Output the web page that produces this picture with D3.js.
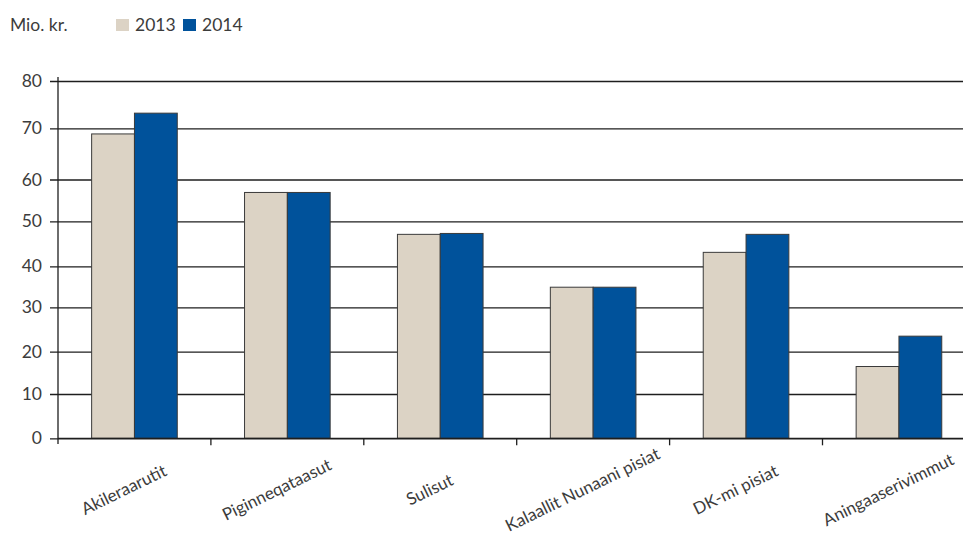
<!DOCTYPE html>
<html>
<head>
<meta charset="utf-8">
<script src="https://cdn.jsdelivr.net/npm/d3@7/dist/d3.min.js"></script>
<style>
  html, body { margin: 0; padding: 0; background: #fff; }
  svg { display: block; }
  text { font-family: Lato, "Open Sans", sans-serif; fill: #3c3c3c; font-weight: 400; }
</style>
</head>
<body>
<svg id="chart" width="963" height="539"></svg>
<script>
// ---- data ----
const categories = ["Akileraarutit", "Piginneqataasut", "Sulisut", "Kalaallit Nunaani pisiat", "DK-mi pisiat", "Aningaaserivimmut"];
const seriesNames = ["2013", "2014"];
const values2013 = [68.9, 56.9, 47.1, 34.9, 43.1, 16.5];
const values2014 = [73.2, 56.9, 47.3, 34.9, 47.1, 23.5];
const yTicks = [0, 10, 20, 30, 40, 50, 60, 70, 80];
const unitLabel = "Mio. kr.";

// ---- layout ----
const W = 963, H = 539;
const colors = { "2013": "#dcd3c5", "2014": "#00529b" };
// the reference's value axis is not evenly spaced; map each tick to where it sits
const yStops = [438.3, 394, 351.7, 307.3, 266.3, 221.3, 179.5, 128.3, 81];
const y = d3.scaleLinear().domain(yTicks).range(yStops);
const x0 = d3.scaleBand().domain(categories).range([58, 975.4]).paddingInner(0.44).paddingOuter(0.22);
const x1 = d3.scaleBand().domain(seriesNames).range([0, x0.bandwidth()]);

const svg = d3.select("#chart");
const series = { "2013": values2013, "2014": values2014 };
const rows = categories.map((c, i) => ({ cat: c, vals: seriesNames.map(s => ({ s, v: series[s][i] })) }));

// gridlines + y ticks
const yAxis = d3.axisLeft(y).tickValues(yTicks).tickSize(-(975 - 58)).tickSizeOuter(0).tickPadding(16);
const gy = svg.append("g").attr("transform", "translate(58,0)").call(yAxis);
gy.select(".domain").remove();
gy.selectAll(".tick line").attr("x1", -8).attr("stroke", "#1e1e1e").attr("stroke-width", 1.3);
gy.selectAll(".tick text").attr("font-size", 17.5).attr("fill", "#3c3c3c")
  .style("font-family", "Lato, 'Open Sans', sans-serif").style("font-weight", 400);

// bars
const groups = svg.append("g").selectAll("g").data(rows).join("g")
  .attr("transform", d => `translate(${x0(d.cat)},0)`);
groups.selectAll("rect").data(d => d.vals).join("rect")
  .attr("x", d => x1(d.s))
  .attr("width", x1.bandwidth())
  .attr("y", d => y(d.v))
  .attr("height", d => y(0) - y(d.v))
  .attr("fill", d => colors[d.s])
  .attr("stroke", "#3a3a3a")
  .attr("stroke-width", 1);

// y axis line
svg.append("line").attr("x1", 58).attr("x2", 58).attr("y1", 77).attr("y2", 444)
  .attr("stroke", "#1e1e1e").attr("stroke-width", 1.3);
// x axis line
svg.append("line").attr("x1", 58).attr("x2", 975).attr("y1", y(0)).attr("y2", y(0))
  .attr("stroke", "#1e1e1e").attr("stroke-width", 1.3);
// category boundary ticks
const step = x0.step();
const bounds = categories.map((c, i) => x0(c) - x0.paddingOuter() * step + step).slice(0, categories.length - 1);
svg.append("g").selectAll("line").data(bounds).join("line")
  .attr("x1", d => d).attr("x2", d => d)
  .attr("y1", y(0)).attr("y2", y(0) + 7)
  .attr("stroke", "#1e1e1e").attr("stroke-width", 1.3);

// category labels
svg.append("g").selectAll("text").data(categories).join("text")
  .attr("text-anchor", "middle")
  .attr("font-size", 17)
  .attr("transform", d => `translate(${x0(d) + x0.bandwidth() / 2 - 8},495) rotate(-26)`)
  .text(d => d);

// legend
svg.append("text").attr("x", 10).attr("y", 31).attr("font-size", 17.5).text(unitLabel);
const leg = svg.append("g").selectAll("g").data(seriesNames).join("g")
  .attr("transform", (d, i) => `translate(${116 + i * 67},19)`);
leg.append("rect").attr("width", 13).attr("height", 12).attr("fill", d => colors[d]);
leg.append("text").attr("x", 19).attr("y", 12).attr("font-size", 17.5).text(d => d);
</script>
</body>
</html>
